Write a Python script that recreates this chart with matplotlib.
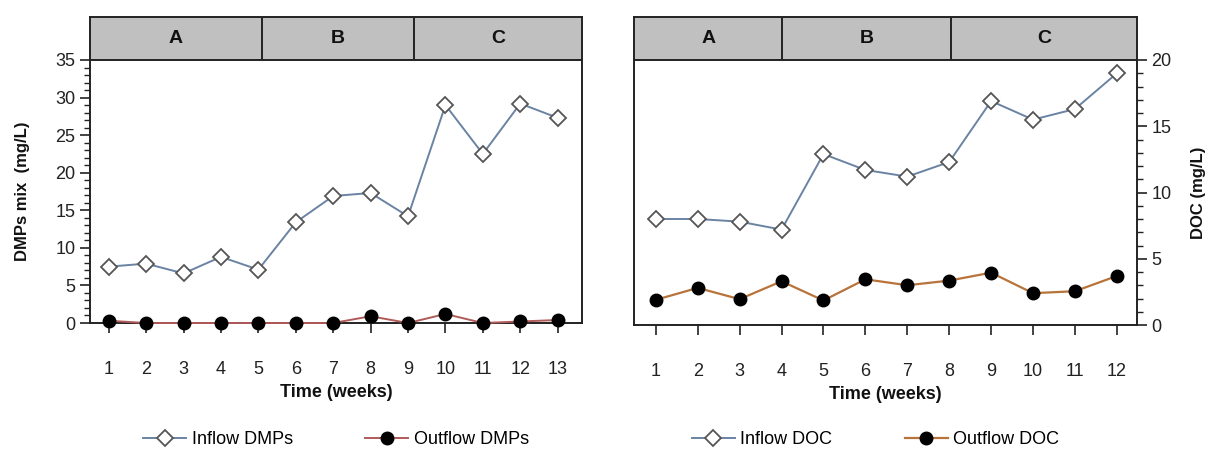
import numpy as np
import matplotlib.pyplot as plt
from matplotlib.ticker import MultipleLocator

plt.rcParams["font.family"] = ["Liberation Sans Narrow", "Liberation Sans", "DejaVu Sans"]

# DMPs mix (left panel)
weeks_dmp = [1, 2, 3, 4, 5, 6, 7, 8, 9, 10, 11, 12, 13]
inflow_dmp = [7.5, 7.9, 6.6, 8.8, 7.1, 13.4, 16.9, 17.3, 14.2, 29.0, 22.5, 29.2, 27.3]
outflow_dmp = [0.3, 0.0, 0.0, 0.0, 0.0, 0.0, 0.0, 0.9, 0.0, 1.2, 0.0, 0.2, 0.4]
phase_edges_dmp = [0.5, 5.1, 9.15, 13.65]

# DOC (right panel)
weeks_doc = [1, 2, 3, 4, 5, 6, 7, 8, 9, 10, 11, 12]
inflow_doc = [8.0, 8.0, 7.8, 7.2, 12.9, 11.7, 11.2, 12.3, 16.9, 15.5, 16.3, 19.0]
outflow_doc = [1.9, 2.8, 1.95, 3.3, 1.85, 3.45, 3.0, 3.35, 3.95, 2.4, 2.55, 3.7]
phase_edges_doc = [0.48, 4.02, 8.05, 12.48]

phase_labels = ["A", "B", "C"]

W, H = 1210, 451
fig = plt.figure(figsize=(W / 100, H / 100), dpi=100)


def rect(x0, y_top, x1, y_bot):
    return [x0 / W, 1 - y_bot / H, (x1 - x0) / W, (y_bot - y_top) / H]


TXT = "#222222"
INFLOW_C = "#6a83a3"
DIAMOND_EDGE = "#555555"


def style_axes(ax):
    for s in ax.spines.values():
        s.set_linewidth(1.4)
        s.set_color("#222222")
    ax.tick_params(axis="both", which="major", length=7, width=1.2,
                   labelsize=13, colors="#222222", labelcolor=TXT)
    ax.tick_params(axis="y", which="minor", length=4, width=1.0, colors="#222222")


def header(rect_, edges):
    hx = fig.add_axes(rect_)
    hx.set_xlim(edges[0], edges[-1])
    hx.set_ylim(0, 1)
    for i, lab in enumerate(phase_labels):
        hx.axvspan(edges[i], edges[i + 1], color="#c0c0c0", zorder=0)
        hx.text((edges[i] + edges[i + 1]) / 2, 0.5, lab, ha="center", va="center",
                fontsize=14, fontweight="bold", color="#111111")
    for e in edges[1:-1]:
        hx.axvline(e, color="#222222", lw=1.4)
    hx.set_xticks([])
    hx.set_yticks([])
    for s in hx.spines.values():
        s.set_linewidth(1.4)
        s.set_color("#222222")
    return hx


# ---- left panel: DMPs mix
ax1 = fig.add_axes(rect(90, 60, 582, 323))
ax1.plot(weeks_dmp, inflow_dmp, color=INFLOW_C, lw=1.4, marker="D", ms=8,
         mfc="white", mec=DIAMOND_EDGE, mew=1.3, label="Inflow DMPs", zorder=3)
ax1.plot(weeks_dmp, outflow_dmp, color="#b05a5a", lw=1.4, marker="o", ms=9,
         mfc="black", mec="black", label="Outflow DMPs", zorder=4, clip_on=False)
ax1.set_xlim(phase_edges_dmp[0], phase_edges_dmp[-1])
ax1.set_ylim(0, 35)
ax1.set_xticks(weeks_dmp)
ax1.yaxis.set_major_locator(MultipleLocator(5))
ax1.yaxis.set_minor_locator(MultipleLocator(1))
style_axes(ax1)
ax1.tick_params(axis="x", pad=20)
ax1.spines["top"].set_visible(False)
ax1.set_ylabel("DMPs mix  (mg/L)", fontsize=12, fontweight="bold", color="#111111", labelpad=18)
ax1.set_xlabel("Time (weeks)", fontsize=13, fontweight="bold", color="#111111", labelpad=5)
ax1.legend(loc="upper center", bbox_to_anchor=(0.5, -0.35), ncol=2, frameon=False,
           fontsize=13, handlelength=2.4, columnspacing=4.0, handletextpad=0.3)
header(rect(90, 17, 582, 60), phase_edges_dmp)

# ---- right panel: DOC
ax2 = fig.add_axes(rect(634, 60, 1137, 325))
ax2.plot(weeks_doc, inflow_doc, color=INFLOW_C, lw=1.4, marker="D", ms=8,
         mfc="white", mec=DIAMOND_EDGE, mew=1.3, label="Inflow DOC", zorder=3)
ax2.plot(weeks_doc, outflow_doc, color="#b8733a", lw=1.6, marker="o", ms=9,
         mfc="black", mec="black", label="Outflow DOC", zorder=4)
ax2.set_xlim(phase_edges_doc[0], phase_edges_doc[-1])
ax2.set_ylim(0, 20)
ax2.set_xticks(weeks_doc)
ax2.yaxis.set_major_locator(MultipleLocator(5))
ax2.yaxis.set_minor_locator(MultipleLocator(1))
ax2.yaxis.tick_right()
ax2.yaxis.set_label_position("right")
style_axes(ax2)
ax2.tick_params(axis="x", pad=20)
ax2.spines["top"].set_visible(False)
ax2.set_ylabel("DOC (mg/L)", fontsize=12, fontweight="bold", color="#111111", labelpad=14)
ax2.set_xlabel("Time (weeks)", fontsize=13, fontweight="bold", color="#111111", labelpad=5)
ax2.legend(loc="upper center", bbox_to_anchor=(0.48, -0.34), ncol=2, frameon=False,
           fontsize=13, handlelength=2.4, columnspacing=4.0, handletextpad=0.3)
header(rect(634, 17, 1137, 60), phase_edges_doc)

fig.savefig("out.png", dpi=100)
